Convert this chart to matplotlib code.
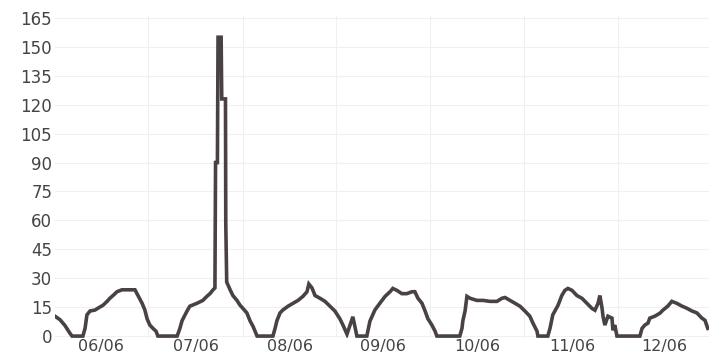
import numpy as np
import matplotlib
matplotlib.use('Agg')
import matplotlib.pyplot as plt

# day index (0 = left edge of the chart) and the plotted value
days = [0, 1.6, 3.2, 4.8, 5.5, 9, 9.7, 10.3, 11.3, 12.9, 13.9, 15.5, 16.8, 17.7, 18.7, 20,
        21.6, 24.2, 25.8, 26.8, 28.1, 29, 29.7, 30.6, 31.6, 32.6, 33.2, 39.4, 40.3, 41, 42.6,
        43.5, 45.8, 47.7, 49, 50, 51, 51.6, 51.8, 52.4, 52.6, 53.6, 53.8, 55, 55.1, 55.4,
        56.5, 57.4, 58.7, 59.7, 60.6, 61.9, 62.9, 63.9, 65.2, 70.3, 71, 71.6, 72.6, 73.5,
        75.2, 76.8, 78.4, 80, 81.3, 81.9, 82.9, 83.9, 85.5, 87.1, 88.7, 90.3, 91.9, 92.9,
        94.2, 95.2, 96.1, 97.4, 100.6, 101.6, 103.2, 104.8, 106.5, 108.1, 109, 110.3, 111.9,
        113.5, 115.2, 116.1, 117.1, 118.4, 119.4, 120.3, 121.6, 122.6, 123.2, 130.6, 131.3,
        131.6, 132.3, 132.9, 133.9, 136.1, 138.1, 140.3, 142.6, 144.2, 145.2, 146.8, 148.4,
        150, 151.6, 153.2, 154.2, 155.5, 155.8, 159, 159.7, 160.6, 162.3, 163.5, 164.5,
        165.5, 166.8, 168.4, 170, 171.6, 173.2, 174.2, 175.2, 175.8, 176.5, 176.8, 177.4,
        178.4, 179.7, 180, 180.6, 181.3, 188.7, 189.4, 190.3, 191.3, 191.9, 193.5, 195.2,
        196.1, 197.7, 199, 200.6, 202.3, 203.9, 205.5, 207.1, 208.7, 209.7, 210.6]
values = [10.3, 8.5, 5.5, 1.5, 0, 0, 4, 11, 13, 13.5, 14.5, 16, 18, 19.6, 21, 23,
          24, 24, 24, 21, 17, 13.5, 9, 5.7, 4, 2.5, 0, 0, 4, 8, 13,
          15.5, 17, 18.5, 20.6, 22, 24, 25, 90, 90, 155, 155, 123, 123, 58, 28,
          24, 21, 18.5, 16, 14.4, 12, 8, 5, 0, 0, 4, 8, 12, 13.5,
          15.5, 17, 18.5, 20.6, 23, 27, 25, 21, 19.6, 18, 15.5, 13, 9, 5.7,
          1, 5.7, 10, 0, 0, 7.7, 13.5, 17, 20.6, 23, 24.7, 23.7, 22,
          22, 23, 23, 19.6, 17, 13, 9, 5.7, 2.6, 0, 0, 4,
          8, 13, 20.6, 19.6, 18.5, 18.5, 18, 18, 19.6, 20, 18.5, 17,
          15.5, 13, 10.3, 6.7, 2.6, 0, 0, 4, 11, 16, 21, 23.7,
          24.7, 23.7, 21, 19.6, 17, 14.4, 13.4, 17, 21, 14.4, 10.3, 5.7,
          10.3, 9.3, 3, 5.7, 0, 0, 4, 5.7, 6.7, 9.3, 10.3, 11.9,
          13.4, 15.5, 18, 17, 15.5, 14.4, 13, 12, 9.3, 8.2, 4]

month_pos = [14.8, 45.5, 75.8, 105.8, 136.1, 166.8, 196.5]
month_labels = ['06/06', '07/06', '08/06', '09/06', '10/06', '11/06', '12/06']
y_ticks = [0, 15, 30, 45, 60, 75, 90, 105, 120, 135, 150, 165]

fig = plt.figure(figsize=(7.11, 3.57), dpi=100)
ax = fig.add_axes([55 / 711, 19 / 357, 654 / 711, 322 / 357])

ax.plot(days, values, color='#4a4242', lw=2.6, solid_joinstyle='miter')

ax.set_xlim(0, 211)
ax.set_ylim(-1, 166)

ax.set_yticks(y_ticks)
ax.set_xticks(month_pos)
ax.set_xticklabels(month_labels)
# faint grid between the month labels
grid_x = [(a + b) / 2 for a, b in zip(month_pos[:-1], month_pos[1:])]
ax.set_xticks(grid_x, minor=True)
ax.grid(True, which='minor', axis='x', color='#f0f0f0', lw=0.8)
ax.grid(True, which='major', axis='y', color='#f0f0f0', lw=0.8)
ax.set_axisbelow(True)

ax.tick_params(axis='both', which='both', length=0, labelsize=12, labelcolor='#444444')
ax.tick_params(axis='y', pad=2)
ax.tick_params(axis='x', pad=1, labelsize=11.5)
for s in ax.spines.values():
    s.set_visible(False)

plt.savefig('out.png', dpi=100)
